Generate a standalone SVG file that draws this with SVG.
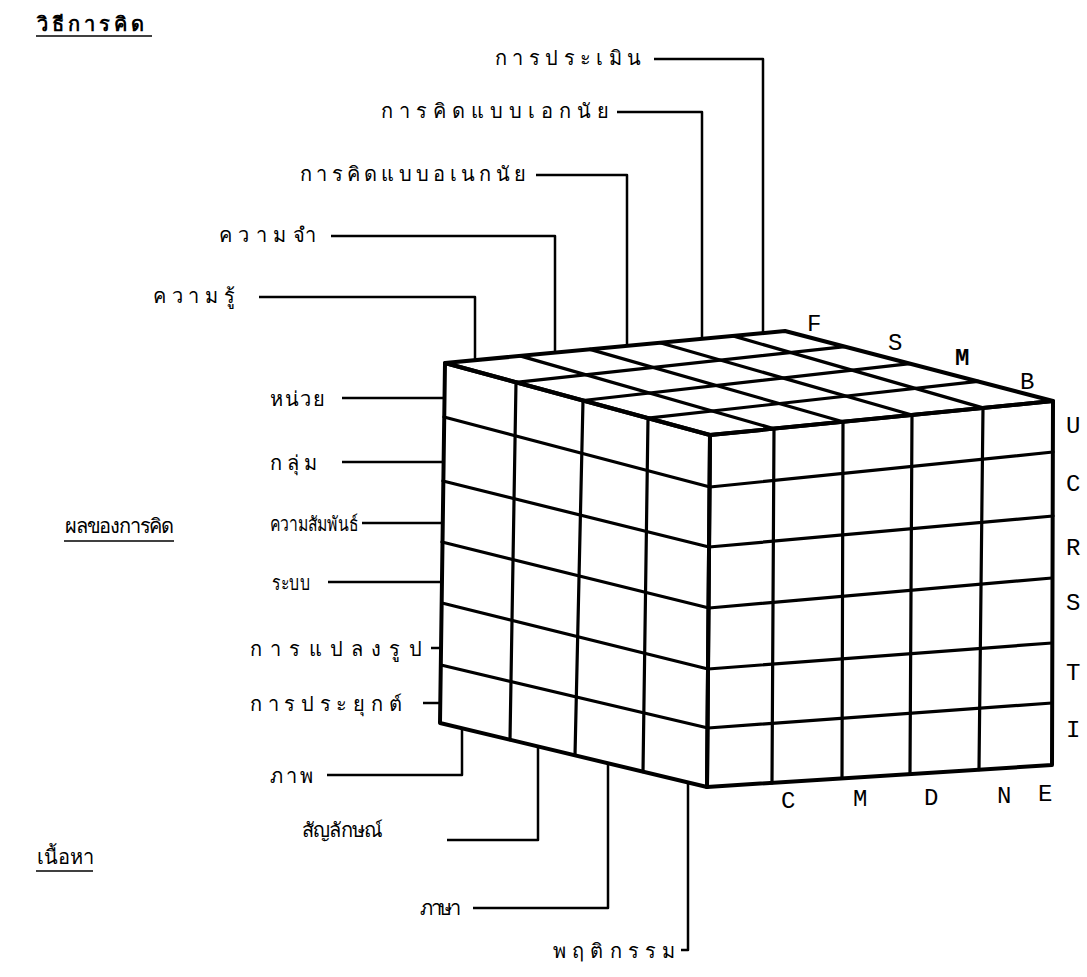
<svg xmlns="http://www.w3.org/2000/svg" width="1087" height="977" viewBox="0 0 1087 977">
<style>
.bg{fill:#fff}
.e{stroke:#000;stroke-width:4;fill:none;stroke-linecap:round;stroke-linejoin:round}
.g{stroke:#000;stroke-width:3.2;fill:none;stroke-linecap:round}
.c{stroke:#000;stroke-width:2.5;fill:none;stroke-linejoin:round}
.th{font-family:"DejaVu Sans","Noto Sans",sans-serif;font-size:20px;fill:#000}
.h{font-family:"DejaVu Sans","Noto Sans",sans-serif;font-size:20px;fill:#000}
.ul{stroke:#000;stroke-width:1.6}
.la{font-family:"Liberation Mono",monospace;font-size:24px;fill:#000}
</style>
<rect class="bg" x="0" y="0" width="1087" height="977"/>

<g id="cube">
  <g id="top-face">
    <polygon class="e" points="445,363 785,331 1053,401 710,435"/>
    <line class="g" x1="520" y1="355.9" x2="774" y2="428.7"/>
    <line class="g" x1="590" y1="349.4" x2="843" y2="421.8"/>
    <line class="g" x1="660" y1="342.8" x2="912" y2="415"/>
    <line class="g" x1="733" y1="335.9" x2="983" y2="407.9"/>
    <line class="g" x1="516" y1="382.3" x2="845" y2="346.7"/>
    <line class="g" x1="583" y1="400.5" x2="910" y2="363.6"/>
    <line class="g" x1="648" y1="418.2" x2="978" y2="381.4"/>
  </g>
  <g id="left-face">
    <polygon class="e" points="445,363 710,435 707,787 440,723"/>
    <line class="g" x1="444" y1="417" x2="710" y2="487"/>
    <line class="g" x1="443" y1="481" x2="709" y2="547"/>
    <line class="g" x1="442" y1="542" x2="709" y2="608"/>
    <line class="g" x1="442" y1="603" x2="708" y2="669"/>
    <line class="g" x1="441" y1="665" x2="708" y2="728"/>
    <line class="g" x1="516" y1="382.3" x2="510" y2="739.8"/>
    <line class="g" x1="583" y1="400.5" x2="575" y2="755.4"/>
    <line class="g" x1="648" y1="418.2" x2="643" y2="771.7"/>
  </g>
  <g id="right-face">
    <polygon class="e" points="710,435 1053,401 1052,765 707,787"/>
    <line class="g" x1="710" y1="487" x2="1053" y2="452"/>
    <line class="g" x1="709" y1="547" x2="1053" y2="516"/>
    <line class="g" x1="709" y1="608" x2="1052" y2="578"/>
    <line class="g" x1="708" y1="669" x2="1052" y2="643"/>
    <line class="g" x1="708" y1="728" x2="1052" y2="703"/>
    <line class="g" x1="774" y1="428.7" x2="772" y2="782.9"/>
    <line class="g" x1="843" y1="421.8" x2="842" y2="778.4"/>
    <line class="g" x1="912" y1="415" x2="910" y2="774.1"/>
    <line class="g" x1="983" y1="407.9" x2="979" y2="769.7"/>
  </g>
</g>

<g id="connectors">
  <polyline class="c" points="654,59 763,59 763,333"/>
  <polyline class="c" points="617,112 702,112 702,339"/>
  <polyline class="c" points="536,175 627,175 627,346"/>
  <polyline class="c" points="331,236 555,236 555,353"/>
  <polyline class="c" points="259,297 475,297 475,360"/>
  <line class="c" x1="342" y1="398" x2="445" y2="398"/>
  <line class="c" x1="342" y1="462" x2="444" y2="462"/>
  <line class="c" x1="362" y1="523" x2="443" y2="523"/>
  <line class="c" x1="328" y1="582" x2="442" y2="582"/>
  <line class="c" x1="431" y1="648" x2="441" y2="648"/>
  <line class="c" x1="423" y1="703" x2="441" y2="703"/>
  <polyline class="c" points="327,775 462,775 462,728"/>
  <polyline class="c" points="447,840 538,840 538,747"/>
  <polyline class="c" points="473,908 608,908 608,763"/>
  <polyline class="c" points="681,950 688,950 688,782"/>
</g>

<g id="heading-operations">
  <text class="h" x="37" y="31" font-weight="bold" letter-spacing="4">วิธีการคิด</text>
  <line class="ul" x1="36" y1="36" x2="152" y2="36"/>
</g>
<g id="heading-products">
  <text class="h" x="65" y="533" letter-spacing="-1.2">ผลของการคิด</text>
  <line class="ul" x1="64" y1="541" x2="174" y2="541"/>
</g>
<g id="heading-contents">
  <text class="h" x="37" y="864">เนื้อหา</text>
  <line class="ul" x1="36" y1="871" x2="93" y2="871"/>
</g>

<g id="op-evaluation"><text class="th" x="495" y="65" letter-spacing="5.4">การประเมิน</text></g>
<g id="op-convergent"><text class="th" x="381" y="118" letter-spacing="6">การคิดแบบเอกนัย</text></g>
<g id="op-divergent"><text class="th" x="300" y="181" letter-spacing="4.3">การคิดแบบอเนกนัย</text></g>
<g id="op-memory"><text class="th" x="219" y="242" letter-spacing="6.4">ความจำ</text></g>
<g id="op-cognition"><text class="th" x="153" y="303" letter-spacing="5.7">ความรู้</text></g>

<g id="pr-units"><text class="th" x="270" y="406" letter-spacing="1.7">หน่วย</text></g>
<g id="pr-classes"><text class="th" x="270" y="470" letter-spacing="5">กลุ่ม</text></g>
<g id="pr-relations"><text class="th" x="270" y="531" textLength="88" lengthAdjust="spacingAndGlyphs">ความสัมพันธ์</text></g>
<g id="pr-systems"><text class="th" x="272" y="590" textLength="38" lengthAdjust="spacingAndGlyphs">ระบบ</text></g>
<g id="pr-transformations"><text class="th" x="250" y="656" letter-spacing="8.2">การแปลงรูป</text></g>
<g id="pr-implications"><text class="th" x="250" y="711" letter-spacing="5.7">การประยุกต์</text></g>

<g id="ct-figural"><text class="th" x="270" y="783" letter-spacing="3">ภาพ</text></g>
<g id="ct-symbolic"><text class="th" x="302" y="837" letter-spacing="-0.8">สัญลักษณ์</text></g>
<g id="ct-semantic"><text class="th" x="420" y="915" letter-spacing="-2.3">ภาษา</text></g>
<g id="ct-behavioral"><text class="th" x="553" y="958" letter-spacing="6.2">พฤติกรรม</text></g>

<g id="letters">
  <text class="la" x="807" y="331">F</text>
  <text class="la" x="888" y="350">S</text>
  <text class="la" x="955" y="365" font-weight="bold">M</text>
  <text class="la" x="1020" y="389">B</text>
  <text class="la" x="1066" y="433">U</text>
  <text class="la" x="1066" y="491">C</text>
  <text class="la" x="1066" y="555">R</text>
  <text class="la" x="1066" y="610">S</text>
  <text class="la" x="1066" y="680">T</text>
  <text class="la" x="1066" y="737">I</text>
  <text class="la" x="781" y="808">C</text>
  <text class="la" x="853" y="806">M</text>
  <text class="la" x="924" y="805">D</text>
  <text class="la" x="997" y="803">N</text>
  <text class="la" x="1038" y="801">E</text>
</g>
</svg>
